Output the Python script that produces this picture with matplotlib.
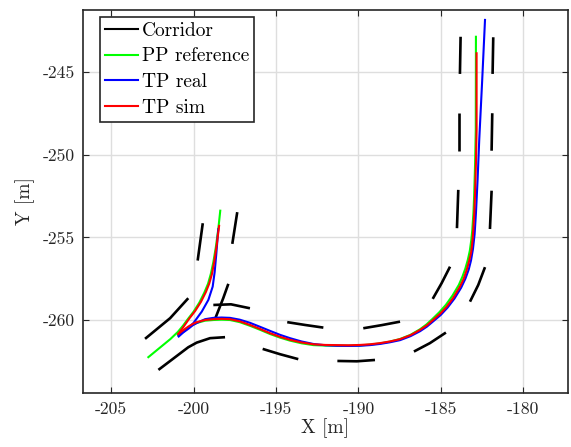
import matplotlib
matplotlib.use("Agg")
import matplotlib.pyplot as plt
from matplotlib.ticker import FuncFormatter
import numpy as np

plt.rcParams['font.family'] = ['cmr10', 'DejaVu Serif']
plt.rcParams['mathtext.fontset'] = 'cm'
plt.rcParams['axes.unicode_minus'] = False

# corridor dashes (x, y)
corridor_dashes = [
    # right vertical part, left boundary
    [(-183.81, -242.85), (-183.85, -245.10)],
    [(-183.89, -247.48), (-183.89, -249.75)],
    [(-183.95, -252.12), (-184.03, -254.44)],
    [(-184.45, -256.77), (-184.96, -257.77), (-185.50, -258.72)],
    # right vertical part, right boundary
    [(-181.83, -242.88), (-181.87, -245.10)],
    [(-181.89, -247.48), (-181.93, -249.75)],
    [(-181.93, -252.17), (-182.03, -254.49)],
    [(-182.33, -256.80), (-182.74, -257.88), (-183.24, -258.89)],
    # bottom part, upper boundary
    [(-187.48, -260.10), (-188.59, -260.31), (-189.71, -260.50)],
    [(-192.13, -260.46), (-193.24, -260.30), (-194.32, -260.13)],
    [(-196.58, -259.29), (-197.73, -259.05), (-198.80, -259.09)],
    # bottom part, lower boundary
    [(-184.70, -260.76), (-185.67, -261.40), (-186.64, -261.91)],
    [(-189.00, -262.42), (-190.10, -262.50), (-191.28, -262.48)],
    [(-193.65, -262.37), (-194.76, -262.07), (-195.81, -261.75)],
    [(-198.09, -261.04), (-199.00, -261.10), (-199.81, -261.37), (-200.32, -261.65), (-202.13, -263.02)],
    # reverse corridor
    [(-202.94, -261.14), (-201.42, -259.89), (-200.32, -258.68)],
    [(-199.44, -254.14), (-199.75, -256.40)],
    [(-197.35, -253.47), (-197.65, -255.39)],
    [(-197.89, -257.81), (-198.20, -258.68), (-198.70, -259.95)],
]

# PP reference
pp_rev_x = [-198.38, -198.50, -198.65, -198.80, -198.95, -199.12, -199.35, -199.65, -200.00, -200.35,
            -200.62, -200.95, -201.40, -202.74]
pp_rev_y = [-253.38, -254.50, -255.60, -256.50, -257.20, -257.80, -258.35, -258.95, -259.50, -259.95,
            -260.32, -260.72, -261.15, -262.25]
pp_fwd_x = [-200.95, -200.62, -200.32, -200.05, -199.81, -199.30, -198.80, -198.30, -197.79, -197.20,
            -196.58, -195.95, -195.36, -194.75, -194.15, -193.45, -192.74, -192.00, -191.32, -190.60,
            -189.91, -189.30, -188.70, -188.10, -187.48, -186.85, -186.27, -185.88, -185.50, -185.10,
            -184.70, -184.30, -183.92, -183.70, -183.52, -183.37, -183.25, -183.16, -183.10, -183.03,
            -182.99, -182.93, -182.89, -182.88]
pp_fwd_y = [-260.90, -260.65, -260.45, -260.29, -260.18, -260.04, -260.00, -259.98, -260.00, -260.13,
            -260.35, -260.60, -260.85, -261.07, -261.25, -261.41, -261.52, -261.55, -261.56, -261.56,
            -261.54, -261.49, -261.42, -261.31, -261.15, -260.90, -260.56, -260.27, -259.92, -259.53,
            -259.08, -258.52, -257.88, -257.38, -256.88, -256.35, -255.80, -255.15, -254.55, -253.50,
            -252.53, -250.51, -248.49, -242.85]

# TP real
real_rev_x = [-198.50, -198.62, -198.72, -198.84, -199.10, -199.50, -200.01, -200.35, -200.62, -200.90]
real_rev_y = [-254.50, -256.00, -257.10, -257.98, -258.78, -259.49, -260.19, -260.50, -260.72, -260.92]
real_fwd_x = [-200.90, -200.62, -200.30, -200.05, -199.80, -199.30, -198.80, -198.30, -197.79, -197.20,
              -196.58, -195.95, -195.36, -194.75, -194.15, -193.45, -192.74, -192.00, -191.32, -190.60,
              -189.91, -189.30, -188.70, -188.10, -187.48, -186.85, -186.27, -185.85, -185.47, -185.02,
              -184.60, -184.18, -183.78, -183.52, -183.32, -183.18, -183.06, -182.96, -182.88, -182.78,
              -182.68, -182.50, -182.33]
real_fwd_y = [-261.00, -260.75, -260.52, -260.32, -260.18, -259.95, -259.87, -259.85, -259.87, -259.98,
              -260.17, -260.42, -260.66, -260.90, -261.10, -261.30, -261.45, -261.53, -261.56, -261.57,
              -261.56, -261.52, -261.45, -261.35, -261.22, -260.98, -260.68, -260.40, -260.08, -259.70,
              -259.25, -258.70, -258.05, -257.50, -256.95, -256.40, -255.70, -254.80, -253.54, -251.51,
              -249.10, -245.47, -241.83]

# TP sim
sim_rev_x = [-198.45, -198.60, -198.75, -198.88, -199.05, -199.25, -199.55, -199.90, -200.25, -200.60,
             -200.92]
sim_rev_y = [-254.30, -255.50, -256.50, -257.20, -257.80, -258.30, -258.90, -259.45, -259.90, -260.40,
             -260.84]
sim_fwd_x = [-200.92, -200.60, -200.32, -200.05, -199.81, -199.30, -198.80, -198.30, -197.79, -197.20,
             -196.58, -195.95, -195.36, -194.75, -194.15, -193.45, -192.74, -192.00, -191.32, -190.60,
             -189.91, -189.30, -188.70, -188.10, -187.48, -186.85, -186.27, -185.85, -185.47, -185.05,
             -184.65, -184.25, -183.85, -183.62, -183.44, -183.30, -183.17, -183.09, -183.04, -182.98,
             -182.94, -182.88, -182.84, -182.84]
sim_fwd_y = [-260.84, -260.60, -260.40, -260.24, -260.13, -260.00, -259.95, -259.93, -259.95, -260.08,
             -260.30, -260.55, -260.80, -261.02, -261.20, -261.36, -261.47, -261.51, -261.52, -261.53,
             -261.51, -261.47, -261.40, -261.30, -261.16, -260.92, -260.60, -260.32, -259.99, -259.62,
             -259.19, -258.65, -257.98, -257.50, -256.97, -256.45, -255.90, -255.20, -254.55, -253.50,
             -252.53, -250.51, -248.49, -243.85]

x_ticks = [-205, -200, -195, -190, -185, -180]
y_ticks = [-260, -255, -250, -245]

labels = ["Corridor", "PP reference", "TP real", "TP sim"]


def main():
    fig = plt.figure(figsize=(5.71, 4.47), dpi=100)
    ax = fig.add_axes([0.1454, 0.1208, 0.8493, 0.8568])
    dark = (0.15, 0.15, 0.15)

    for d in corridor_dashes:
        d = np.array(d)
        ax.plot(d[:, 0], d[:, 1], color='black', lw=1.9, solid_capstyle='butt')
    h_cor, = ax.plot([], [], color='black', lw=1.5)

    # reverse + forward part of each path
    ax.plot(pp_rev_x, pp_rev_y, color=(0, 1, 0), lw=1.5)
    h_pp, = ax.plot(pp_fwd_x, pp_fwd_y, color=(0, 1, 0), lw=1.5)
    ax.plot(real_rev_x, real_rev_y, color=(0, 0, 1), lw=1.5)
    h_real, = ax.plot(real_fwd_x, real_fwd_y, color=(0, 0, 1), lw=1.5)
    ax.plot(sim_rev_x, sim_rev_y, color=(1, 0, 0), lw=1.5)
    h_sim, = ax.plot(sim_fwd_x, sim_fwd_y, color=(1, 0, 0), lw=1.5)

    ax.set_xlim(-206.7, -177.3)
    ax.set_ylim(-264.42, -241.23)
    ax.set_xticks(x_ticks)
    ax.set_yticks(y_ticks)
    fmt = FuncFormatter(lambda v, _: "%d" % v)
    ax.xaxis.set_major_formatter(fmt)
    ax.yaxis.set_major_formatter(fmt)
    ax.tick_params(direction='in', top=True, right=True, length=4, width=0.8,
                   color=dark, labelcolor=dark, labelsize=12.7, pad=6)
    ax.grid(True, color=(0.87, 0.87, 0.87), lw=1)
    ax.set_axisbelow(True)
    for s in ax.spines.values():
        s.set_color(dark)
        s.set_linewidth(1.2)

    ax.set_xlabel("X [m]", fontsize=14, color=dark, labelpad=1)
    ax.set_ylabel("Y [m]", fontsize=14, color=dark, labelpad=5)

    leg = ax.legend([h_cor, h_pp, h_real, h_sim], labels,
                    loc='upper left', bbox_to_anchor=(0.035, 0.982), borderaxespad=0,
                    fontsize=14, handlelength=1.7, handletextpad=0.22, labelspacing=0.4,
                    borderpad=0.25, fancybox=False, framealpha=1)
    leg.get_frame().set_edgecolor(dark)
    leg.get_frame().set_linewidth(1.2)

    fig.savefig("out.png", dpi=100)


if __name__ == "__main__":
    main()
